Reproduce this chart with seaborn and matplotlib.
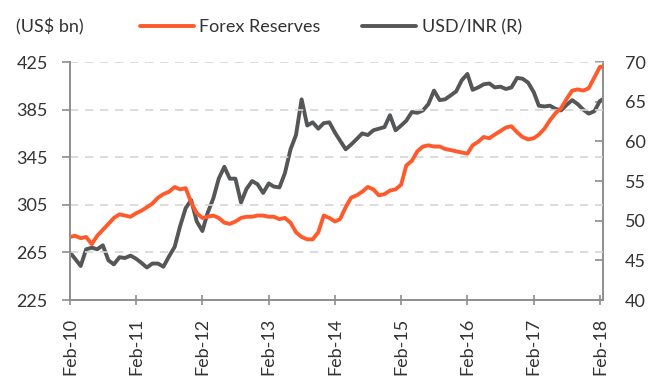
import matplotlib
matplotlib.use("Agg")
import matplotlib.pyplot as plt
import matplotlib.dates as mdates
import pandas as pd
import seaborn as sns

# Monthly readings, Feb-2010 .. Feb-2018, plus a mid-Feb-2018 close
forex_reserves = [
    278, 279, 277, 278, 272, 279, 284, 289, 294, 297, 296, 295,
    298, 300, 303, 306, 311, 314, 316, 320, 318, 319, 307, 298,
    294, 295, 296, 294, 290, 289, 291, 294, 295, 295, 296, 296,
    295, 295, 293, 294, 290, 282, 278, 276, 276, 282, 296, 294,
    291, 293, 303, 311, 313, 316, 320, 318, 313, 314, 317, 318,
    322, 338, 342, 350, 354, 355, 354, 354, 352, 351, 350, 349,
    348, 355, 358, 362, 361, 364, 367, 370, 371, 366, 362, 360,
    361, 364, 369, 376, 382, 386, 394, 401, 402, 401, 403, 412,
    421, 421,
]
usd_inr = [
    46.0, 45.2, 44.3, 46.4, 46.6, 46.4, 46.9, 45.0, 44.5, 45.4, 45.3, 45.6,
    45.2, 44.7, 44.1, 44.6, 44.6, 44.2, 45.5, 46.7, 49.3, 51.6, 52.6, 49.9,
    48.7, 51.0, 52.8, 55.3, 56.8, 55.3, 55.3, 52.3, 54.0, 55.0, 54.6, 53.5,
    54.7, 54.3, 54.2, 56.0, 59.0, 60.8, 65.3, 62.0, 62.4, 61.6, 62.3, 62.4,
    61.1, 60.1, 59.0, 59.6, 60.3, 61.0, 60.8, 61.4, 61.6, 61.8, 63.3, 61.4,
    62.0, 62.6, 63.7, 63.6, 63.9, 64.7, 66.4, 65.2, 65.3, 65.8, 66.3, 67.7,
    68.5, 66.5, 66.8, 67.2, 67.3, 66.8, 66.9, 66.6, 66.8, 68.0, 67.9, 67.4,
    66.2, 64.5, 64.4, 64.5, 64.1, 63.9, 64.6, 65.2, 64.7, 64.0, 63.5, 63.8,
    65.1, 65.3,
]
dates = list(pd.date_range("2010-02-01", periods=97, freq="MS")) + [pd.Timestamp("2018-02-16")]

left_ticks = [225, 265, 305, 345, 385, 425]
right_ticks = [40, 45, 50, 55, 60, 65, 70]
year_ticks = [pd.Timestamp(f"{y}-02-01") for y in range(2010, 2019)]

df = pd.DataFrame({"date": dates, "forex": forex_reserves, "inr": usd_inr})

ORANGE = "#FF5A2B"
GREY = "#545658"
AXIS = "#8E8E8E"
TEXT = "#333333"
FS = 13

sns.set_theme(style="white")
plt.rcParams["font.family"] = ["Lato", "DejaVu Sans"]

fig = plt.figure(figsize=(6.56, 3.76), dpi=100)
ax = fig.add_axes([0.1067, 0.202, 0.8123, 0.633])
ax2 = ax.twinx()

sns.lineplot(data=df, x="date", y="forex", ax=ax, color=ORANGE, linewidth=2.8,
             label="Forex Reserves", legend=False)
sns.lineplot(data=df, x="date", y="inr", ax=ax2, color=GREY, linewidth=2.8,
             label="USD/INR (R)", legend=False)

ax.set_ylim(225, 425)
ax2.set_ylim(40, 70)
ax.set_xlim(pd.Timestamp("2010-02-01"), pd.Timestamp("2018-02-17"))
ax.set_yticks(left_ticks)
ax2.set_yticks(right_ticks)
ax.set_xticks(year_ticks)
ax.xaxis.set_major_formatter(mdates.DateFormatter("%b-%y"))
ax.set_xlabel("")
ax.set_ylabel("")
ax2.set_ylabel("")

for y in left_ticks[1:]:
    ax.axhline(y, color="#D6D6D6", linewidth=1.2, linestyle=(0, (5, 4)), zorder=0)

for a in (ax, ax2):
    a.spines["top"].set_visible(False)
    for side in ("left", "right", "bottom"):
        a.spines[side].set_color(AXIS)
        a.spines[side].set_linewidth(1.4)
ax.spines["right"].set_visible(False)
ax2.spines["left"].set_visible(False)
ax2.spines["bottom"].set_visible(False)

ax.tick_params(axis="y", which="major", direction="out", length=6, width=1.2,
               color=AXIS, labelsize=FS, labelcolor=TEXT, pad=10, left=True)
ax.tick_params(axis="x", which="major", direction="inout", length=7, width=1.2,
               color=AXIS, labelsize=FS, labelcolor=TEXT, pad=9, rotation=90, bottom=True)
ax2.tick_params(axis="y", which="major", direction="in", length=6, width=1.2,
                color=AXIS, labelsize=FS, labelcolor=TEXT, pad=16, right=True)

ax.set_zorder(ax2.get_zorder() + 1)
ax.patch.set_visible(False)

fig.text(0.024, 0.928, "(US$ bn)", fontsize=FS, color=TEXT, va="center", ha="left")

handles = ax.get_lines()[:1] + ax2.get_lines()[:1]
fig.legend(handles, ["Forex Reserves", "USD/INR (R)"], loc="center left",
           bbox_to_anchor=(0.213, 0.928), ncol=2, frameon=False, fontsize=FS,
           handlelength=3.0, handletextpad=0.3, columnspacing=2.3,
           labelcolor=TEXT, borderaxespad=0, borderpad=0)

fig.savefig("out.png", dpi=100)
